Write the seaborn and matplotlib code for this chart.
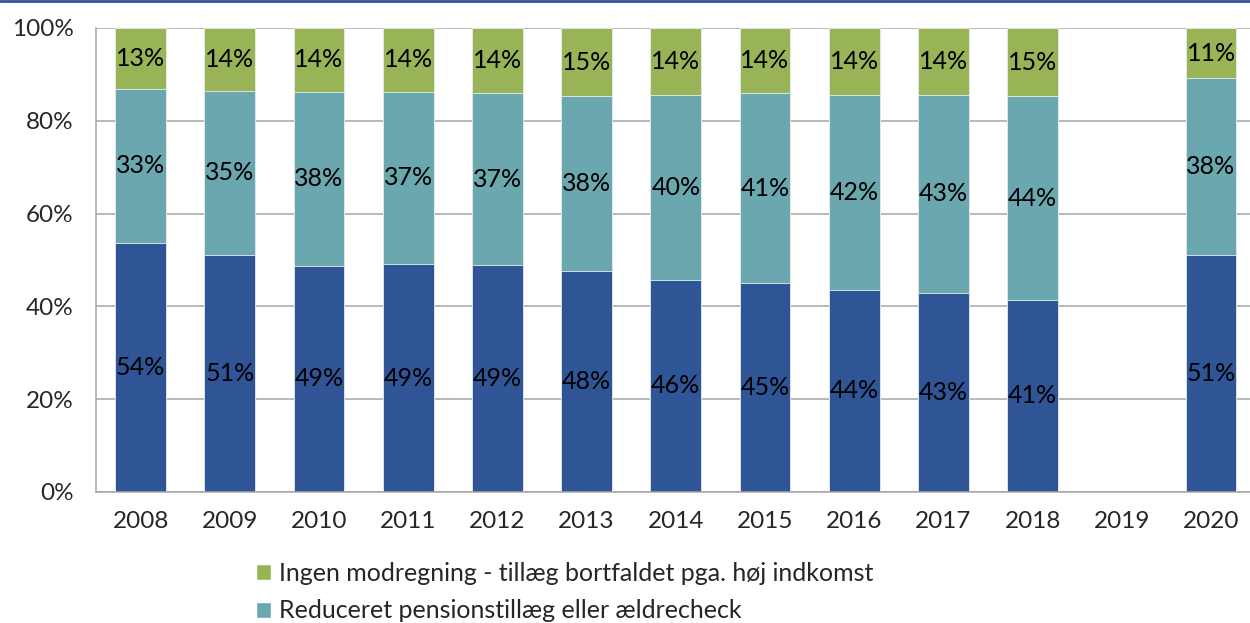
import numpy as np
import pandas as pd
import matplotlib
matplotlib.use("Agg")
import matplotlib.pyplot as plt
from matplotlib.lines import Line2D
from matplotlib.patches import Patch
from matplotlib.ticker import PercentFormatter, FixedLocator
import seaborn as sns

# Data (percent of total)
years = ["2008", "2009", "2010", "2011", "2012", "2013", "2014",
         "2015", "2016", "2017", "2018", "2019", "2020"]
modregnet = [53.7, 51.1, 48.7, 49.1, 48.9, 47.6, 45.7, 45.0, 43.6, 42.9, 41.4, np.nan, 51.1]
reduceret = [33.2, 35.3, 37.6, 37.2, 37.1, 37.7, 39.9, 41.0, 42.0, 42.7, 43.9, np.nan, 38.1]
ingen = [13.1, 13.6, 13.7, 13.7, 14.0, 14.7, 14.4, 14.0, 14.4, 14.4, 14.7, np.nan, 10.8]

lbl_ingen = "Ingen modregning - tillæg bortfaldet pga. høj indkomst"
lbl_reduceret = "Reduceret pensionstillæg eller ældrecheck"

c_blue = "#2F5597"
c_teal = "#6BA7AF"
c_green = "#98B457"

sns.set_style("white")
plt.rcParams["font.family"] = ["Lato", "DejaVu Sans"]

df = pd.DataFrame({"year": years, "blue": modregnet, "teal": reduceret, "green": ingen})
df["cum_blue"] = df["blue"]
df["cum_teal"] = df["blue"] + df["teal"]
df["cum_green"] = df["cum_teal"] + df["green"]

fig = plt.figure(figsize=(12.5, 6.23), dpi=100)
ax = fig.add_axes([0.0768, 0.2103, 0.9277, 0.7448])

w = 0.57
for col, color in [("cum_green", c_green), ("cum_teal", c_teal), ("cum_blue", c_blue)]:
    sns.barplot(data=df, x="year", y=col, order=years, color=color, width=w,
                saturation=1, errorbar=None, edgecolor="#E8EEF0", linewidth=0.6, ax=ax)

# tal i hvert segment
for i, row in df.iterrows():
    if np.isnan(row["blue"]):
        continue
    segs = [(0, row["blue"]), (row["cum_blue"], row["teal"]), (row["cum_teal"], row["green"])]
    for base, h in segs:
        ax.text(i, base + h / 2, f"{h:.0f}%", ha="center", va="center",
                fontsize=18, color="black")

ax.set_xlim(-0.5, 12.5)
ax.set_ylim(0, 100)
ax.set_xlabel("")
ax.set_ylabel("")
ax.yaxis.set_major_locator(FixedLocator([0, 20, 40, 60, 80, 100]))
ax.yaxis.set_major_formatter(PercentFormatter(decimals=0))
ax.grid(axis="y", color="#A6A6A6", linewidth=1.1)
ax.set_axisbelow(True)

for s in ["top", "right"]:
    ax.spines[s].set_visible(False)
ax.spines["left"].set_color("#A6A6A6")
ax.spines["bottom"].set_color("#A6A6A6")
ax.spines["left"].set_linewidth(1.1)
ax.spines["bottom"].set_linewidth(1.1)

ax.tick_params(axis="y", length=5, width=1.1, color="#A6A6A6", pad=11, labelsize=17.5)
ax.tick_params(axis="x", which="major", length=0, pad=14, labelsize=17.5)
ax.set_xticks(np.arange(-0.5, 12.5, 1), minor=True)
ax.tick_params(axis="x", which="minor", length=6, width=1.1, color="#A6A6A6")

handles = [Patch(facecolor=c_green), Patch(facecolor=c_teal)]
fig.legend(handles, [lbl_ingen, lbl_reduceret], loc="upper left",
           bbox_to_anchor=(0.205, 0.098), frameon=False, fontsize=18,
           handlelength=0.6, handleheight=0.6, handletextpad=0.3,
           labelspacing=0.58, borderpad=0, borderaxespad=0)

fig.add_artist(Line2D([0, 1], [0.999, 0.999], transform=fig.transFigure,
                      color="#2F5597", linewidth=2))

fig.savefig("out.png", dpi=100)
